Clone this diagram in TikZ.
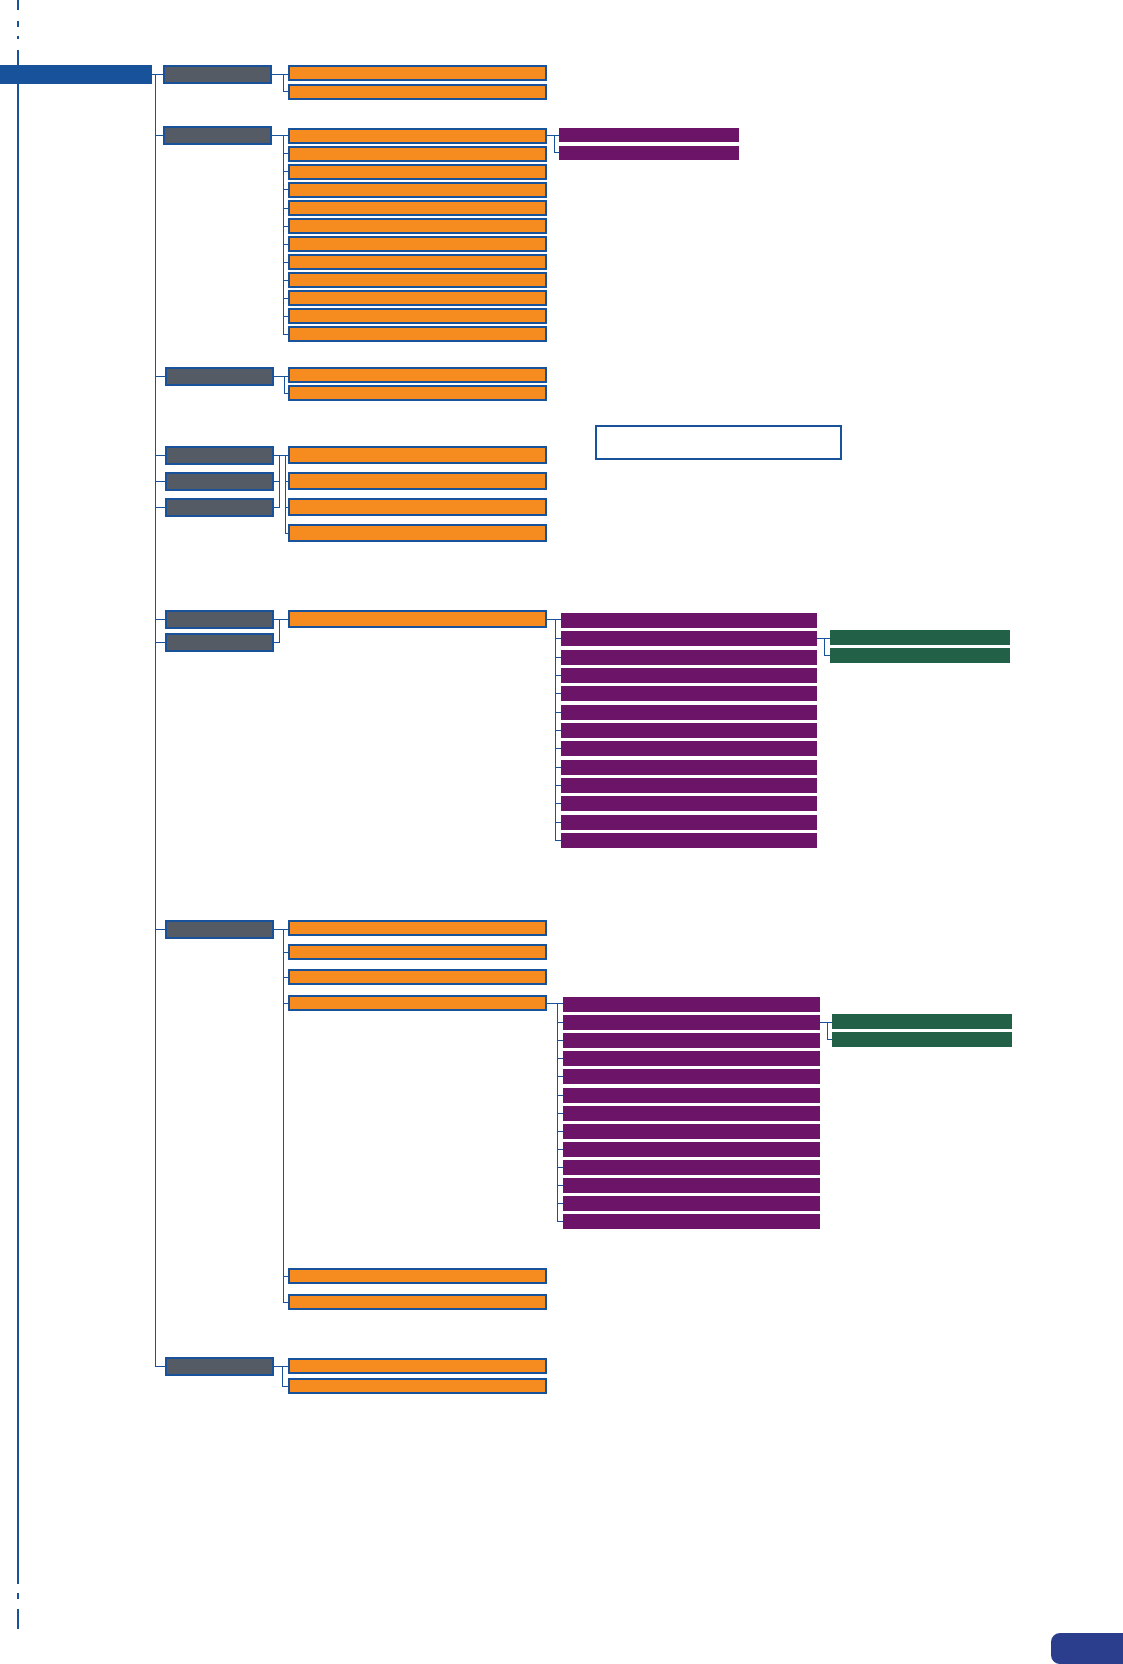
\documentclass[tikz,border=0pt]{standalone}
\usetikzlibrary{calc}
\definecolor{rootblue}{HTML}{17529A}
\definecolor{slate}{HTML}{555B65}
\definecolor{itemorange}{HTML}{F68B1F}
\definecolor{plum}{HTML}{6B1468}
\definecolor{leafgreen}{HTML}{226148}
\definecolor{tabblue}{HTML}{2B3E8E}
\tikzset{
	box/.style={rectangle, inner sep=0pt, outer sep=0pt, anchor=north west},
	rootbar/.style={box, fill=rootblue, minimum width=152pt, minimum height=19pt},
	catbox/.style={box, fill=slate, draw=rootblue, line width=2pt, minimum width=107pt, minimum height=17pt},
	itembox/.style={box, fill=itemorange, draw=rootblue, line width=2pt, minimum width=257pt, minimum height=14pt},
	subbox/.style={box, fill=plum, minimum width=256pt, minimum height=15pt},
	leafbox/.style={box, fill=leafgreen, minimum width=180pt, minimum height=15pt},
	notebox/.style={box, fill=white, draw=rootblue, line width=2pt, minimum width=245pt, minimum height=33pt},
	link/.style={draw=rootblue, line width=1pt},
}

\begin{document}
\begin{tikzpicture}[x=1pt, y=-1pt]
			%%%%% START %%%%%
			\def\xcat{166}
			\def\xitem{289}
			\def\xrule{18}
			\useasboundingbox (0,0) rectangle (1122,1664);
			
			% left margin rule
			\draw[rootblue, line width=2pt] (\xrule,0) -- (\xrule,10) (\xrule,21) -- (\xrule,27) (\xrule,36) -- (\xrule,39)
				(\xrule,50) -- (\xrule,1584) (\xrule,1593) -- (\xrule,1599) (\xrule,1609) -- (\xrule,1629);
			
			\node[rootbar] (root) at (0,65) {};
			
			% first level
			\node[catbox] (c1) at (\xcat-2,66) {};
			\node[catbox] (c2) at (\xcat-2,127) {};
			\node[catbox] (c3) at (\xcat,368) {};
			\node[catbox] (c4) at (\xcat,447) {};
			\node[catbox] (c5) at (\xcat,473) {};
			\node[catbox] (c6) at (\xcat,499) {};
			\node[catbox] (c7) at (\xcat,611) {};
			\node[catbox] (c8) at (\xcat,634) {};
			\node[catbox] (c9) at (\xcat,921) {};
			\node[catbox] (c10) at (\xcat,1358) {};
			
			\coordinate (t) at ([xshift=3pt]root.east);
			\draw[link] (root.east) -- (t) |- (c10.west);
			\foreach \i in {1,...,9}
				\draw[link] (t |- c\i.west) -- (c\i.west);
			
			% group 1
			\node[itembox] (a1) at (\xitem,66) {};
			\node[itembox] (a2) at (\xitem,85) {};
			\coordinate (j1) at ([xshift=12pt]c1.east);
			\draw[link] (c1.east) -- (c1.east -| a1.west);
			\draw[link] (j1) |- (a2.west);
			
			% group 2
			\foreach \k in {1,...,12}
				\node[itembox] (b\k) at (\xitem,{129+(\k-1)*18}) {};
			\coordinate (j2) at ([xshift=12pt]c2.east);
			\draw[link] (c2.east) -- (c2.east -| b1.west);
			\draw[link] (j2) |- (b12.west);
			\foreach \k in {2,...,11}
				\draw[link] (j2 |- b\k.west) -- (b\k.west);
			\node[subbox, minimum width=180pt, minimum height=14pt] (p1) at (559,128) {};
			\node[subbox, minimum width=180pt, minimum height=14pt] (p2) at (559,146) {};
			\coordinate (m2) at ([xshift=8pt]b1.east);
			\draw[link] (b1.east) -- (b1.east -| p1.west);
			\draw[link] (m2) |- (p2.west);
			
			% group 3
			\node[itembox] (d1) at (\xitem,368) {};
			\node[itembox] (d2) at (\xitem,386) {};
			\coordinate (j3) at ([xshift=11pt]c3.east);
			\draw[link] (c3.east) -- (c3.east -| d1.west);
			\draw[link] (j3) |- (d2.west);
			
			% group 4
			\node[itembox, minimum height=16pt] (e1) at (\xitem,447) {};
			\node[itembox, minimum height=16pt] (e2) at (\xitem,473) {};
			\node[itembox, minimum height=16pt] (e3) at (\xitem,499) {};
			\node[itembox, minimum height=16pt] (e4) at (\xitem,525) {};
			\coordinate (j4) at ([xshift=6pt]c4.east);
			\coordinate (j4b) at ([xshift=12pt]c4.east);
			\draw[link] (c4.east) -- (c4.east -| e1.west);
			\draw[link] (c5.east) -| (j4);
			\draw[link] (c6.east) -| (j4);
			\draw[link] (j4b) |- (e4.west);
			\draw[link] (j4b |- e2.west) -- (e2.west);
			\draw[link] (j4b |- e3.west) -- (e3.west);
			
			\node[notebox] (note) at (596,426) {};
			
			% group 5
			\node[itembox, minimum height=16pt] (f1) at (\xitem,611) {};
			\coordinate (j5) at ([xshift=6pt]c7.east);
			\draw[link] (c7.east) -- (c7.east -| f1.west);
			\draw[link] (c8.east) -| (j5);
			\foreach \k in {1,...,13}
				\node[subbox] (q\k) at (561,{613+(\k-1)*18.33}) {};
			\coordinate (m5) at ([xshift=9pt]f1.east);
			\draw[link] (f1.east) -- (f1.east -| q1.west);
			\draw[link] (m5) |- (q13.west);
			\foreach \k in {2,...,12}
				\draw[link] (m5 |- q\k.west) -- (q\k.west);
			\node[leafbox] (r1) at (830,630) {};
			\node[leafbox] (r2) at (830,648) {};
			\coordinate (n5) at ([xshift=7pt]q2.east);
			\draw[link] (q2.east) -- (q2.east -| r1.west);
			\draw[link] (n5) |- (r2.west);
			
			% group 6
			\node[itembox] (h1) at (\xitem,921) {};
			\node[itembox] (h2) at (\xitem,945) {};
			\node[itembox] (h3) at (\xitem,970) {};
			\node[itembox] (h4) at (\xitem,996) {};
			\node[itembox] (h5) at (\xitem,1269) {};
			\node[itembox] (h6) at (\xitem,1295) {};
			\coordinate (j6) at ([xshift=10pt]c9.east);
			\draw[link] (c9.east) -- (c9.east -| h1.west);
			\draw[link] (j6) |- (h6.west);
			\foreach \k in {2,...,5}
				\draw[link] (j6 |- h\k.west) -- (h\k.west);
			\foreach \k in {1,...,13}
				\node[subbox, minimum width=257pt] (s\k) at (563,{997+(\k-1)*18.1}) {};
			\coordinate (m6) at ([xshift=11pt]h4.east);
			\draw[link] (h4.east) -- (h4.east -| s1.west);
			\draw[link] (m6) |- (s13.west);
			\foreach \k in {2,...,12}
				\draw[link] (m6 |- s\k.west) -- (s\k.west);
			\node[leafbox] (u1) at (832,1014) {};
			\node[leafbox] (u2) at (832,1032) {};
			\coordinate (n6) at ([xshift=7pt]s2.east);
			\draw[link] (s2.east) -- (s2.east -| u1.west);
			\draw[link] (n6) |- (u2.west);
			
			% group 7
			\node[itembox] (k1) at (\xitem,1359) {};
			\node[itembox] (k2) at (\xitem,1379) {};
			\coordinate (j7) at ([xshift=9pt]c10.east);
			\draw[link] (c10.east) -- (c10.east -| k1.west);
			\draw[link] (j7) |- (k2.west);
			
			% page tab
			\fill[tabblue, rounded corners=9pt] (1051,1633) rectangle (1136,1664);
			%%%%% END %%%%%
\end{tikzpicture}
\end{document}
